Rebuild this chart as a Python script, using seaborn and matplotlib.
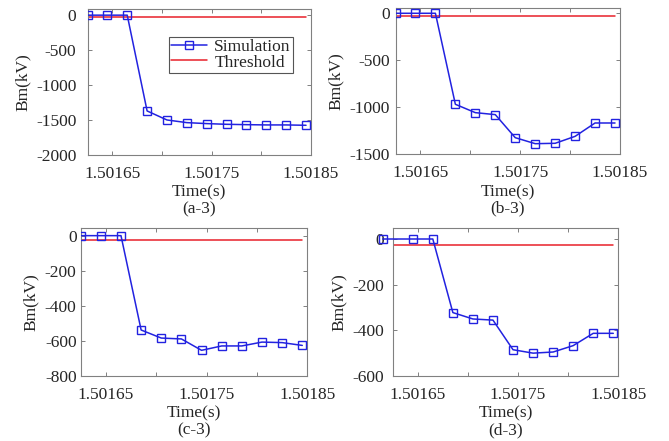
import matplotlib
matplotlib.use('Agg')
import matplotlib.pyplot as plt
import seaborn as sns
import pandas as pd

# time samples (s)
t = [1.501625, 1.501645, 1.501665, 1.501685, 1.501705, 1.501725,
     1.501745, 1.501765, 1.501785, 1.501805, 1.501825, 1.501845]
# panel (d) first sample sits left of the axis in the original
t_d = [1.501615, 1.501645, 1.501665, 1.501685, 1.501705, 1.501725,
       1.501745, 1.501765, 1.501785, 1.501805, 1.501825, 1.501845]

bm_a = [0, 0, 0, -1370, -1499, -1537, -1551, -1561, -1566, -1570, -1570, -1575]
bm_b = [0, 0, 0, -968, -1057, -1078, -1323, -1387, -1383, -1309, -1167, -1167]
bm_c = [0, 0, 0, -539, -585, -590, -655, -630, -630, -608, -611, -627]
bm_d = [0, 0, 0, -323, -351, -356, -486, -501, -496, -468, -414, -414]
threshold = -25

panel_names = ['(a-3)', '(b-3)', '(c-3)', '(d-3)']
xtick_vals = [1.50165, 1.5017, 1.50175, 1.5018, 1.50185]
xtick_labels = ['1.50165', '', '1.50175', '', '1.50185']

sns.set_style('ticks')
plt.rcParams['font.family'] = ['Liberation Serif', 'DejaVu Serif']
plt.rcParams['font.size'] = 12.5
plt.rcParams['xtick.direction'] = 'in'
plt.rcParams['ytick.direction'] = 'in'

W, H = 669, 441
fig = plt.figure(figsize=(W / 100, H / 100), dpi=100)

# (left, top, right, bottom) in pixels, ylim, yticks, ytick pad
panels = [
    (t, bm_a, (87.5, 9, 311, 155), (-2000, 88), [0, -500, -1000, -1500, -2000], 8),
    (t, bm_b, (395.5, 8.3, 620, 154.3), (-1500, 53), [0, -500, -1000, -1500], 4),
    (t, bm_c, (80.7, 228.3, 307.3, 375.7), (-800, 42), [0, -200, -400, -600, -800], 3),
    (t_d, bm_d, (392.7, 228.3, 618.3, 375.7), (-600, 47), [0, -200, -400, -600], 6),
]

gray = '#808080'
for i, (tt, bm, box, ylim, yt, ypad) in enumerate(panels):
    l, tp, r, b = box
    ax = fig.add_axes([l / W, 1 - b / H, (r - l) / W, (b - tp) / H])
    sim = pd.DataFrame({'t': tt, 'bm': bm})
    thr = pd.DataFrame({'t': t, 'bm': [threshold] * len(t)})
    sns.lineplot(data=sim, x='t', y='bm', ax=ax, color='#2222e0', lw=1.1,
                 marker='s', markersize=5.5, markerfacecolor='none',
                 markeredgecolor='#2222e0', markeredgewidth=1.0,
                 label='Simulation', clip_on=(i != 3), zorder=3)
    sns.lineplot(data=thr, x='t', y='bm', ax=ax, color='#e8202a', lw=1.1,
                 label='Threshold', zorder=2)
    ax.set_xlim(1.501625, 1.50185)
    ax.set_ylim(*ylim)
    ax.set_xticks(xtick_vals)
    ax.set_xticklabels(xtick_labels)
    ax.set_yticks(yt)
    ax.set_yticklabels([str(v) for v in yt])
    ax.tick_params(axis='both', which='both', top=True, right=True,
                   length=3, width=0.7, color=gray, labelsize=12.5)
    ax.tick_params(axis='x', pad=8)
    ax.tick_params(axis='y', pad=ypad)
    for s in ax.spines.values():
        s.set_color(gray)
        s.set_linewidth(0.8)
    ax.set_xlabel('Time(s)\n' + panel_names[i], linespacing=1.05, labelpad=2)
    ax.set_ylabel('Bm(kV)', labelpad=4)
    if i == 0:
        ax.legend(loc='upper right', bbox_to_anchor=(0.919, 0.808),
                  fancybox=False, frameon=True, edgecolor='#555555',
                  framealpha=1, handlelength=2.1, labelspacing=-0.05,
                  borderpad=0.12, handletextpad=0.4, borderaxespad=0,
                  fontsize=12.5)
        ax.get_legend().get_frame().set_linewidth(0.8)
    else:
        ax.get_legend().remove()

fig.savefig('out.png', dpi=100)
